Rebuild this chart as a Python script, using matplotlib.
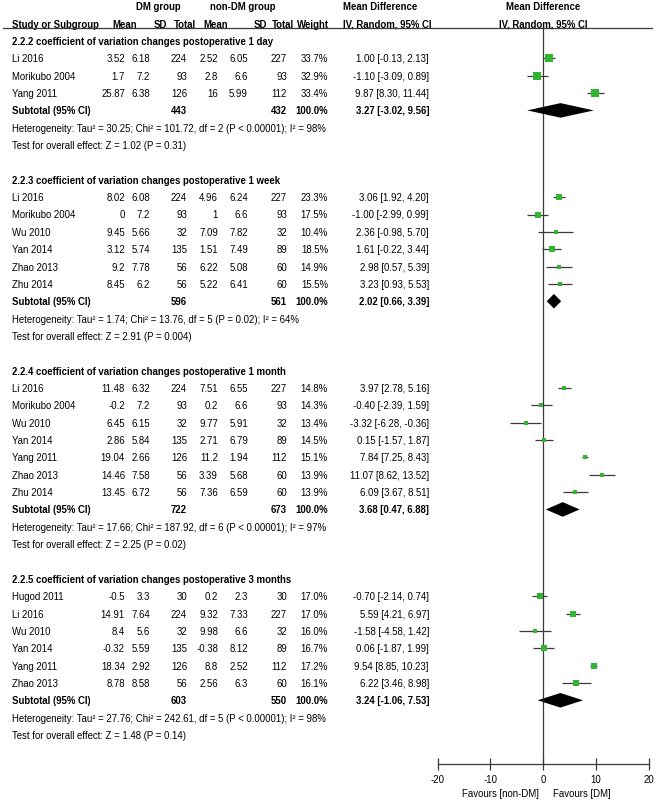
import matplotlib.pyplot as plt
from matplotlib.lines import Line2D
from matplotlib.transforms import blended_transform_factory

plt.rcParams["font.family"] = ["Liberation Sans", "DejaVu Sans"]
FS = 6.9

# -----------------------------
# data
# -----------------------------

titles = [
    "2.2.2 coefficient of variation changes postoperative 1 day",
    "2.2.3 coefficient of variation changes postoperative 1 week",
    "2.2.4 coefficient of variation changes postoperative 1 month",
    "2.2.5 coefficient of variation changes postoperative 3 months",
]

studies = [
    ["Li 2016", "Morikubo 2004", "Yang 2011"],
    ["Li 2016", "Morikubo 2004", "Wu 2010", "Yan 2014", "Zhao 2013", "Zhu 2014"],
    ["Li 2016", "Morikubo 2004", "Wu 2010", "Yan 2014", "Yang 2011", "Zhao 2013", "Zhu 2014"],
    ["Hugod 2011", "Li 2016", "Wu 2010", "Yan 2014", "Yang 2011", "Zhao 2013"],
]

dm_mean = [
    [3.52, 1.7, 25.87],
    [8.02, 0, 9.45, 3.12, 9.2, 8.45],
    [11.48, -0.2, 6.45, 2.86, 19.04, 14.46, 13.45],
    [-0.5, 14.91, 8.4, -0.32, 18.34, 8.78],
]
dm_sd = [
    [6.18, 7.2, 6.38],
    [6.08, 7.2, 5.66, 5.74, 7.78, 6.2],
    [6.32, 7.2, 6.15, 5.84, 2.66, 7.58, 6.72],
    [3.3, 7.64, 5.6, 5.59, 2.92, 8.58],
]
dm_n = [
    [224, 93, 126],
    [224, 93, 32, 135, 56, 56],
    [224, 93, 32, 135, 126, 56, 56],
    [30, 224, 32, 135, 126, 56],
]
non_mean = [
    [2.52, 2.8, 16],
    [4.96, 1, 7.09, 1.51, 6.22, 5.22],
    [7.51, 0.2, 9.77, 2.71, 11.2, 3.39, 7.36],
    [0.2, 9.32, 9.98, -0.38, 8.8, 2.56],
]
non_sd = [
    [6.05, 6.6, 5.99],
    [6.24, 6.6, 7.82, 7.49, 5.08, 6.41],
    [6.55, 6.6, 5.91, 6.79, 1.94, 5.68, 6.59],
    [2.3, 7.33, 6.6, 8.12, 2.52, 6.3],
]
non_n = [
    [227, 93, 112],
    [227, 93, 32, 89, 60, 60],
    [227, 93, 32, 89, 112, 60, 60],
    [30, 227, 32, 89, 112, 60],
]
weights = [
    [33.7, 32.9, 33.4],
    [23.3, 17.5, 10.4, 18.5, 14.9, 15.5],
    [14.8, 14.3, 13.4, 14.5, 15.1, 13.9, 13.9],
    [17.0, 17.0, 16.0, 16.7, 17.2, 16.1],
]
md = [
    [1.00, -1.10, 9.87],
    [3.06, -1.00, 2.36, 1.61, 2.98, 3.23],
    [3.97, -0.40, -3.32, 0.15, 7.84, 11.07, 6.09],
    [-0.70, 5.59, -1.58, 0.06, 9.54, 6.22],
]
ci_lo = [
    [-0.13, -3.09, 8.30],
    [1.92, -2.99, -0.98, -0.22, 0.57, 0.93],
    [2.78, -2.39, -6.28, -1.57, 7.25, 8.62, 3.67],
    [-2.14, 4.21, -4.58, -1.87, 8.85, 3.46],
]
ci_hi = [
    [2.13, 0.89, 11.44],
    [4.20, 0.99, 5.70, 3.44, 5.39, 5.53],
    [5.16, 1.59, -0.36, 1.87, 8.43, 13.52, 8.51],
    [0.74, 6.97, 1.42, 1.99, 10.23, 8.98],
]

sub_dm_n = [443, 596, 722, 603]
sub_non_n = [432, 561, 673, 550]
sub_md = [3.27, 2.02, 3.68, 3.24]
sub_lo = [-3.02, 0.66, 0.47, -1.06]
sub_hi = [9.56, 3.39, 6.88, 7.53]

heterogeneity = [
    "Heterogeneity: Tau² = 30.25; Chi² = 101.72, df = 2 (P < 0.00001); I² = 98%",
    "Heterogeneity: Tau² = 1.74; Chi² = 13.76, df = 5 (P = 0.02); I² = 64%",
    "Heterogeneity: Tau² = 17.66; Chi² = 187.92, df = 6 (P < 0.00001); I² = 97%",
    "Heterogeneity: Tau² = 27.76; Chi² = 242.61, df = 5 (P < 0.00001); I² = 98%",
]
overall = [
    "Test for overall effect: Z = 1.02 (P = 0.31)",
    "Test for overall effect: Z = 2.91 (P = 0.004)",
    "Test for overall effect: Z = 2.25 (P = 0.02)",
    "Test for overall effect: Z = 1.48 (P = 0.14)",
]

x_ticks = [-20, -10, 0, 10, 20]

# -----------------------------
# layout (pixels)
# -----------------------------

W, H = 660, 804
row0, row_h = 42, 17.35
top_line, axis_y = 29, 765
plot_l, plot_r = 437.5, 649

green = "#33b533"
line_col = "#3a3a3a"

fig = plt.figure(figsize=(W / 100, H / 100), dpi=100)
ax = fig.add_axes([plot_l / W, 1 - axis_y / H, (plot_r - plot_l) / W, (axis_y - top_line) / H])
ax.set_xlim(-20, 20)
ax.set_ylim((axis_y - row0) / row_h, (top_line - row0) / row_h)

for s in ["top", "left", "right"]:
    ax.spines[s].set_visible(False)
ax.spines["bottom"].set_linewidth(0.9)
ax.spines["bottom"].set_color(line_col)
ax.set_yticks([])
ax.set_xticks(x_ticks)
ax.set_xticklabels([str(t) for t in x_ticks])
ax.tick_params(axis="x", direction="inout", length=8, width=0.9, colors=line_col,
               labelcolor="black", labelsize=FS, pad=3)
ax.axvline(0, color=line_col, lw=0.9)

trans = blended_transform_factory(fig.transFigure, ax.transData)


def put(x, row, s, ha="right", bold=False):
    ax.text(x / W, row, s, transform=trans, ha=ha, va="center", fontsize=FS,
            fontweight="bold" if bold else "normal")


def num(v):
    return f"{v:g}"


# headers
put(158, -2, "DM group", ha="center", bold=True)
put(243, -2, "non-DM group", ha="center", bold=True)
put(343, -2, "Mean Difference", ha="left", bold=True)
put(543, -2, "Mean Difference", ha="center", bold=True)
put(12, -1, "Study or Subgroup", ha="left", bold=True)
for x, s in zip([137, 167, 196, 228, 267, 294, 329],
                ["Mean", "SD", "Total", "Mean", "SD", "Total", "Weight"]):
    put(x, -1, s, bold=True)
put(343, -1, "IV, Random, 95% CI", ha="left", bold=True)
put(543, -1, "IV, Random, 95% CI", ha="center", bold=True)
fig.add_artist(Line2D([3 / W, 652 / W], [1 - top_line / H] * 2, color=line_col, lw=0.9))

# -----------------------------
# rows
# -----------------------------

cols = [125, 150, 187, 218, 248, 287, 328, 429]
row = 0
for k in range(len(titles)):
    put(12, row, titles[k], ha="left", bold=True)
    row += 1
    for i in range(len(studies[k])):
        put(12, row, studies[k][i], ha="left")
        cells = [num(dm_mean[k][i]), num(dm_sd[k][i]), str(dm_n[k][i]),
                 num(non_mean[k][i]), num(non_sd[k][i]), str(non_n[k][i]),
                 f"{weights[k][i]:.1f}%",
                 f"{md[k][i]:.2f} [{ci_lo[k][i]:.2f}, {ci_hi[k][i]:.2f}]"]
        for x, c in zip(cols, cells):
            put(x, row, c)
        ax.hlines(row, ci_lo[k][i], ci_hi[k][i], color=line_col, lw=0.9)
        side = 1.25 * weights[k][i] ** 0.5 * 0.72
        ax.scatter(md[k][i], row, marker="s", s=side ** 2, color=green, lw=0, zorder=3)
        row += 1
    # subtotal
    put(12, row, "Subtotal (95% CI)", ha="left", bold=True)
    put(cols[2], row, str(sub_dm_n[k]), bold=True)
    put(cols[5], row, str(sub_non_n[k]), bold=True)
    put(cols[6], row, "100.0%", bold=True)
    put(cols[7], row, f"{sub_md[k]:.2f} [{sub_lo[k]:.2f}, {sub_hi[k]:.2f}]", bold=True)
    h = 0.42
    ax.fill([sub_lo[k], sub_md[k], sub_hi[k], sub_md[k]],
            [row, row - h, row, row + h], color="black", lw=0, zorder=3)
    row += 1
    put(12, row, heterogeneity[k], ha="left")
    row += 1
    put(12, row, overall[k], ha="left")
    row += 2

fig.text(539 / W, 1 - 794 / H, "Favours [non-DM]", ha="right", va="center", fontsize=FS)
fig.text(553 / W, 1 - 794 / H, "Favours [DM]", ha="left", va="center", fontsize=FS)

fig.savefig("out.png", dpi=100, facecolor="white")
